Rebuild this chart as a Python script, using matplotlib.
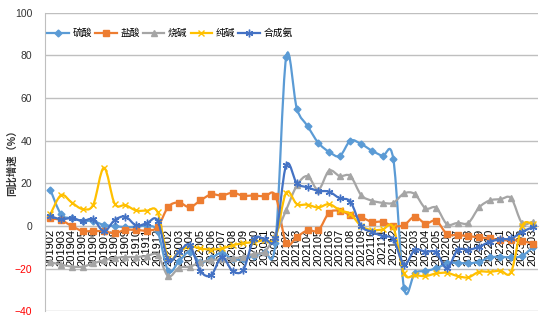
import numpy as np
import matplotlib
matplotlib.use('Agg')
import matplotlib.pyplot as plt
from matplotlib.path import Path
from matplotlib.patches import PathPatch
from matplotlib.lines import Line2D

plt.rcParams['font.family'] = ['Liberation Sans', 'Noto Sans CJK SC', 'DejaVu Sans']

months = ['201902', '201903', '201904', '201905', '201906', '201907', '201908', '201909',
          '201910', '201911', '201912',
          '202002', '202003', '202004', '202005', '202006', '202007', '202008', '202009',
          '202010', '202011', '202012',
          '202102', '202103', '202104', '202105', '202106', '202107', '202108', '202109',
          '202110', '202111', '202112',
          '202202', '202203', '202204', '202205', '202206', '202207', '202208', '202209',
          '202210', '202211', '202212',
          '202302', '202303']

# 同比增速 (%)
liusuan = [17, 5.5, 3.6, 2.5, 2.3, 0.5, 0, -0.5, -0.3, 0, -2.5,
           -21, -16.5, -12, -17, -15, -12.5, -15.5, -15.5, -14, -12, -8,
           79, 55, 46.8, 39, 34.8, 32.8, 40, 38.4, 35.3, 32.8, 31.3,
           -29, -22, -21, -19.8, -17.5, -17.2, -17.5, -16.7, -14.7, -14.4, -14.7,
           -14, -10]
yansuan = [3.6, 2.8, 0, -2.3, -2.3, -2.5, -3.3, -1.8, -1.8, -2.1, -0.5,
           9, 11, 8.8, 12, 14.8, 14.3, 15.6, 14.2, 14.3, 13.9, 14.2,
           -8, -5, -2, -2, 6.2, 7.2, 5.2, 4.1, 2, 2, 0,
           0.5, 4.4, 1.2, 2.5, -3.7, -4.2, -4.7, -5.3, -5.8, -6.6, -6.6,
           -6.9, -8.4]
shaojian = [-17, -18, -19, -19, -17.5, -16, -15, -14.5, -14.5, -14, -13.5,
            -23.5, -19.5, -19, -17, -16, -15.5, -15, -14.5, -13, -12, -4,
            7.5, 19, 23.4, 17, 25.9, 23.4, 23.4, 14.5, 11.9, 10.9, 10.9,
            15.3, 15, 8.3, 8.6, 0.9, 1.5, 1.5, 8.7, 12, 12.6, 13,
            1.5, 2]
chunjian = [5.5, 14.5, 11, 8, 10, 27.3, 10.5, 9.8, 7.3, 7.2, 6.5,
            -15, -12, -9.5, -10.5, -11, -10.5, -9, -8, -7.5, -6.5, -5.5,
            15.6, 10.3, 10, 8.7, 10.3, 7.5, 5.6, 0, -1.9, -1.6, -0.6,
            -22.2, -23, -23.4, -22.2, -21.9, -23.4, -24, -21.4, -21.4, -20.9, -21.4,
            0, 0.9]
hechengan = [4.6, 3.2, 3.7, 2.4, 3.2, -2.5, 2.8, 4.4, 0.3, 1.3, 2.6,
             -16, -12, -9, -21, -23, -14.5, -21, -20.5, -6, -6, -5.5,
             28.5, 20, 18.1, 16.5, 16.1, 13, 11.4, 0, -2.7, -4.7, -6.2,
             -18, -11.2, -12, -12.3, -19.8, -11.2, -11.2, -9.7, -7.3, -6.2, -5.8,
             -2.7, -0.6]

names = ['硫酸', '盐酸', '烧碱', '纯碱', '合成氨']
colors = ['#5B9BD5', '#ED7D31', '#A5A5A5', '#FFC000', '#4472C4']
markers = ['D', 's', '^', 'x', (6, 2, 0)]
msizes = [3.5, 5, 5, 5, 5.5]


def smooth_path(xs, ys):
    # Excel style smoothed line: cubic Bezier segments through each point
    verts = [(xs[0], ys[0])]
    codes = [Path.MOVETO]
    n = len(xs)
    for i in range(n - 1):
        a = i - 1 if i > 0 else i
        d = i + 2 if i + 2 < n else i + 1
        c1 = (xs[i] + (xs[i + 1] - xs[a]) / 6, ys[i] + (ys[i + 1] - ys[a]) / 6)
        c2 = (xs[i + 1] - (xs[d] - xs[i]) / 6, ys[i + 1] - (ys[d] - ys[i]) / 6)
        verts += [c1, c2, (xs[i + 1], ys[i + 1])]
        codes += [Path.CURVE4] * 3
    return Path(verts, codes)


fig = plt.figure(figsize=(5.5, 3.24), dpi=100)
ax = fig.add_axes([0.0818, 0.0386, 0.8964, 0.9228])

x = np.arange(len(months))
series = [liusuan, yansuan, shaojian, chunjian, hechengan]
handles = []
for k, ys in enumerate(series):
    ax.add_patch(PathPatch(smooth_path(x, ys), fill=False, edgecolor=colors[k],
                           lw=1.6, zorder=3 + k))
    ax.plot(x, ys, linestyle='none', marker=markers[k], ms=msizes[k],
            color=colors[k], mec=colors[k], mew=1, zorder=3 + k)
    handles.append(Line2D([], [], color=colors[k], lw=1.6, marker=markers[k],
                          ms=msizes[k], mew=1))

ax.set_xlim(-0.5, len(months) - 0.5)
ax.set_ylim(-40, 100)
ax.set_yticks(np.arange(-40, 101, 20))
ax.grid(axis='y', color='#BFBFBF', lw=1)
ax.set_axisbelow(True)

for s in ['top', 'right']:
    ax.spines[s].set_visible(False)
ax.spines['left'].set_color('#BFBFBF')
ax.spines['bottom'].set_position(('data', 0))
ax.spines['bottom'].set_color('#BFBFBF')

ax.set_xticks(x)
ax.set_xticklabels(months, rotation=90, fontsize=8, rotation_mode='anchor',
                   ha='right', va='center')
ax.tick_params(axis='x', length=0, pad=2)
ax.tick_params(axis='y', length=0, pad=9, labelsize=7.5)
for lab in ax.get_yticklabels():
    if float(lab.get_text().replace('−', '-')) < 0:
        lab.set_color('#FF0000')
    else:
        lab.set_color('#333333')

fig.text(12 / 550, 1 - 160 / 324, '同比增速（%）', rotation=90, ha='center', va='center',
         fontsize=7.5, fontweight='bold', color='#333333')

ax.legend(handles, names, loc='center left', bbox_to_anchor=(0.005, 0.931), ncol=5,
          frameon=False, fontsize=7, handlelength=2.2, handletextpad=0.4,
          columnspacing=0.3, borderpad=0, borderaxespad=0)

fig.savefig('out.png', dpi=100)
